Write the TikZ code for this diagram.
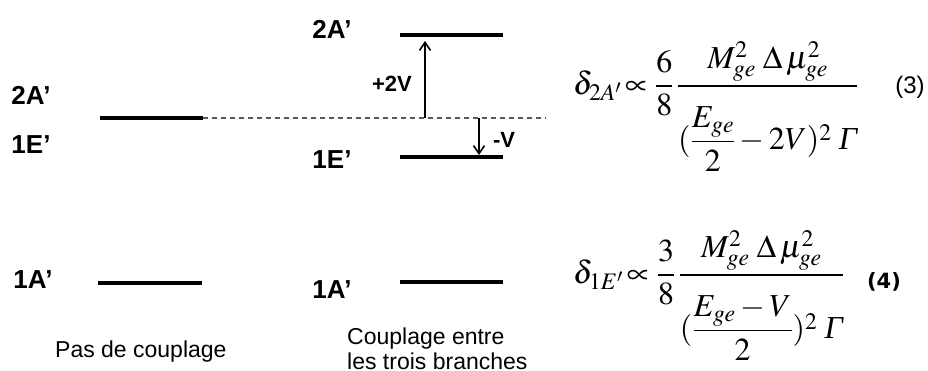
\documentclass[tikz,border=0pt]{standalone}
\usepackage{amsmath}
\usepackage{mathptmx}
\usepackage{fontspec}
\setmainfont{Liberation Serif}
\setsansfont{Liberation Sans}
\newfontfamily\djv{DejaVu Sans}
\usetikzlibrary{arrows.meta}
\newcommand{\dstrut}{\rule{0pt}{59pt}}
\newcommand{\istrut}{\rule{0pt}{26pt}}
\begin{document}
\begin{tikzpicture}[x=1pt,y=-1pt,
  level/.style={line width=3.2pt},
  levelL/.style={line width=4.2pt},
  lbl/.style={font=\sffamily\bfseries\fontsize{26}{28}\selectfont, inner sep=0pt},
  shiftlbl/.style={font=\sffamily\bfseries\fontsize{22}{26}\selectfont, inner sep=0pt},
  captxt/.style={font=\sffamily\fontsize{23}{25}\selectfont, inner sep=0pt, align=left},
  eq/.style={font=\fontsize{32}{38}\selectfont, inner sep=0pt, anchor=base west},
  arr/.style={line width=1.6pt, -{Straight Barb[length=8pt,width=11pt,line width=1.6pt]}},
  refline/.style={gray!70!black, line width=1.8pt, dash pattern=on 5pt off 4pt}]
\useasboundingbox (0,0) rectangle (928,370);
% left column labels
\node[lbl] (l2a) at (31,95) {2A’};
\node[lbl] (l1e) at (31,145) {1E’};
\node[lbl] (l1a) at (33,280) {1A’};
% middle labels
\node[lbl] (m2a) at (332,29) {2A’};
\node[lbl] (m1e) at (332,160) {1E’};
\node[lbl] (m1a) at (332,290) {1A’};
% coordinates of levels
\coordinate (a1) at (100,118); \coordinate (a2) at (203,118);
\coordinate (d2) at (546,118);
\coordinate (b1) at (98,283);  \coordinate (b2) at (202,283);
\coordinate (t1) at (400,35);  \coordinate (t2) at (503,35);
\coordinate (e1) at (400,157); \coordinate (e2) at (503,157);
\coordinate (r1) at (400,282); \coordinate (r2) at (503,282);
\draw[levelL] (a1) -- (a2);
\draw[levelL] (b1) -- (b2);
\draw[refline] (a2) -- (d2);
\draw[level] (t1) -- (t2);
\draw[level] (e1) -- (e2);
\draw[level] (r1) -- (r2);
% arrows
\coordinate (up0) at (425,118); \coordinate (up1) at (425,41);
\coordinate (dn0) at (479,118); \coordinate (dn1) at (479,155);
\draw[arr] (up0) -- (up1);
\draw[arr] (dn0) -- (dn1);
\node[shiftlbl] (p2v) at (392,84) {+2V};
\node[shiftlbl] (mv) at (504,140) {-V};
% captions
\node[captxt, anchor=base west] (c1) at (55,357) {Pas de couplage};
\node[captxt, anchor=base west] (c2) at (347,344) {Couplage entre};
\node[captxt, anchor=base west] (c3) at (347,369) {les trois branches};
% equations
\node[eq] (eq3) at (573,94) {$\displaystyle \delta_{2A'}\!\propto\frac{6}{8}\,\frac{M_{ge}^{2}\;\Delta\,\mu_{ge}^{2}}{\dstrut(\dfrac{E_{ge}}{\istrut 2}-2V)^{2}\;\textit{Γ}}$};
\node[eq] (eq4) at (573,283) {$\displaystyle \delta_{1E'}\!\propto\frac{3}{8}\,\frac{M_{ge}^{2}\;\Delta\,\mu_{ge}^{2}}{\dstrut(\dfrac{E_{ge}-V}{\istrut 2})^{2}\;\textit{Γ}}$};
\node[font=\sffamily\fontsize{24}{28}\selectfont, inner sep=0pt] (n3) at (910,87) {(3)};
\node[font=\djv\bfseries\fontsize{21}{24}\selectfont, inner sep=0pt] (n4) at (884,282) {(4)};
\end{tikzpicture}
\end{document}
